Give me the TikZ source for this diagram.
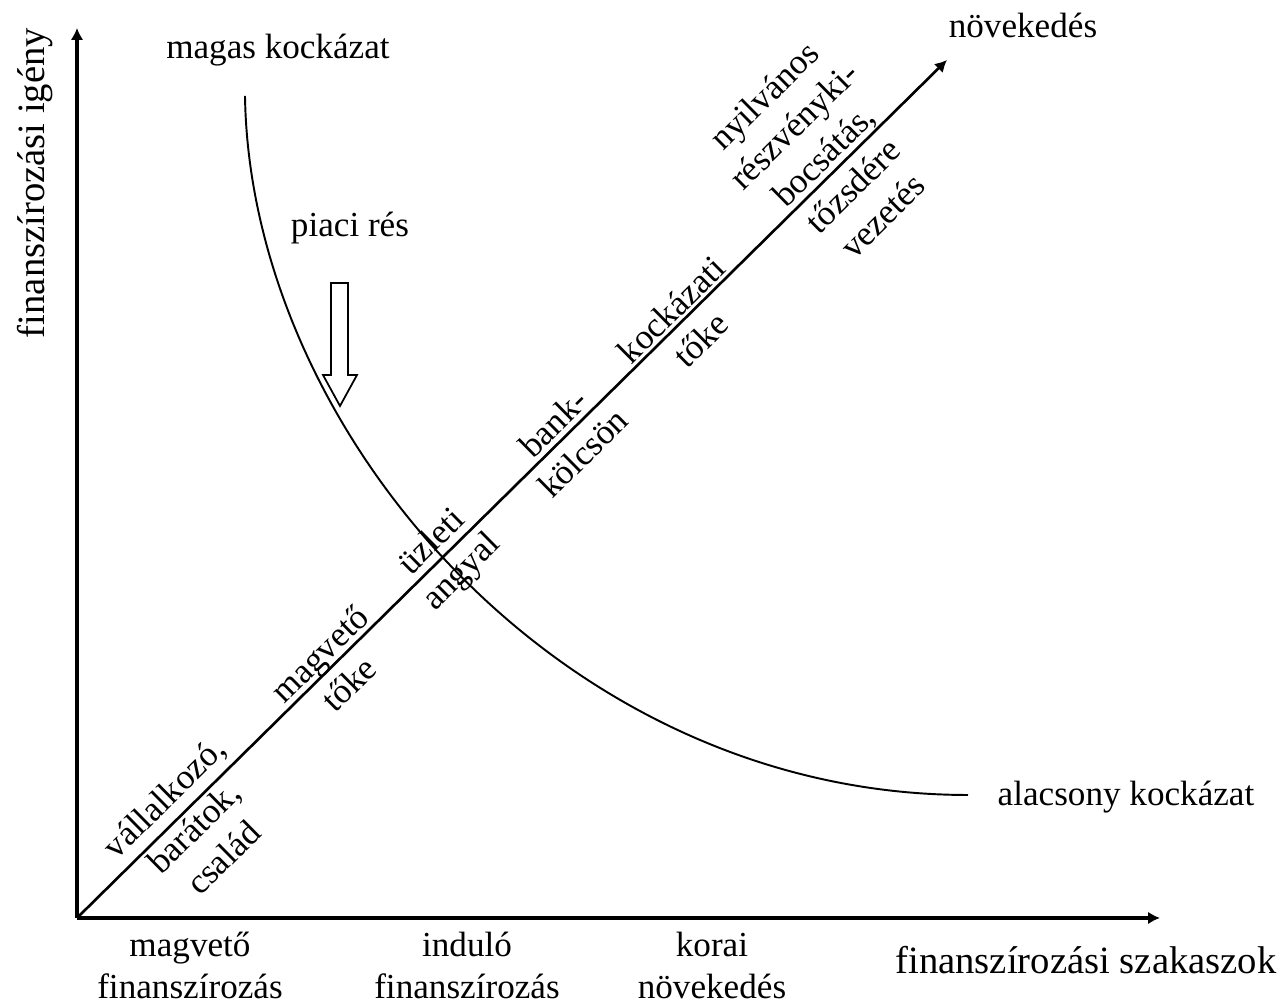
\documentclass[tikz,border=0pt]{standalone}
\usepackage{fontspec}
\setmainfont{Liberation Serif}
\usetikzlibrary{arrows.meta}

\begin{document}
\begin{tikzpicture}[>={Latex[length=3.4pt,width=3.6pt]},
    axis/.style={->,line width=1pt},
    stage/.style={->,line width=0.75pt},
    risk/.style={line width=0.55pt},
    txt/.style={inner sep=0pt,align=center},
    along/.style={inner sep=0pt,align=center,sloped},
    big/.style={inner sep=0pt,font=\fontsize{11}{13}\selectfont}]
    \useasboundingbox (-0.77,-0.87) rectangle (12.09,9.18);

    \coordinate (O) at (0,0);
    \coordinate (Ytop) at (0,8.90);
    \coordinate (Xend) at (10.83,0);
    \coordinate (Grow) at (8.70,8.58);
    \coordinate (Hi) at (1.68,8.22);
    \coordinate (Lo) at (8.91,1.23);
    \coordinate (Gap) at (2.63,5.12);

    \node[big,rotate=90] (Need) at (-0.42,7.35) {finanszírozási igény};
    \node[big] (Stages) at (10.09,-0.42) {finanszírozási szakaszok};
    \node[txt] (HiRisk) at (2.01,8.68) {magas kockázat};
    \node[txt,anchor=west] (LoRisk) at (9.20,1.21) {alacsony kockázat};
    \node[txt] (Niche) at (2.73,6.90) {piaci rés};
    \node[txt] (Growth) at (9.46,8.93) {növekedés};

    \node[txt,anchor=north] (Seed) at (1.13,-0.13) {magvető\\finanszírozás};
    \node[txt,anchor=north] (Start) at (3.90,-0.13) {induló\\finanszírozás};
    \node[txt,anchor=north] (Early) at (6.35,-0.13) {korai\\növekedés};

    \draw[axis] (O) -- (Ytop);
    \draw[axis] (O) -- (Xend);
    \draw[stage] (O) -- (Grow)
        node[along,pos=0.120,yshift=-0.17cm] (Fam) {vállalkozó,\\barátok,\\család}
        node[along,pos=0.293,yshift=-0.03cm] (SeedCap) {magvető\\tőke}
        node[along,pos=0.423,yshift=-0.04cm] (Angel) {üzleti\\angyal}
        node[along,pos=0.562,yshift=-0.03cm] (Bank) {bank-\\kölcsön}
        node[along,pos=0.696,yshift=-0.05cm] (VC) {kockázati\\tőke}
        node[along,pos=0.873,yshift=0.19cm] (IPO) {nyilvános\\részvényki-\\bocsátás,\\tőzsdére\\vezetés};

    \draw[risk] (Hi) .. controls (1.73,4.88) and (4.83,1.23) .. (Lo);
    \draw[line width=0.5pt] (Gap) -- ++(0.17,0.31) -- ++(-0.09,0) -- ++(0,0.92)
        -- ++(-0.17,0) -- ++(0,-0.92) -- ++(-0.08,0) -- cycle;
\end{tikzpicture}
\end{document}
